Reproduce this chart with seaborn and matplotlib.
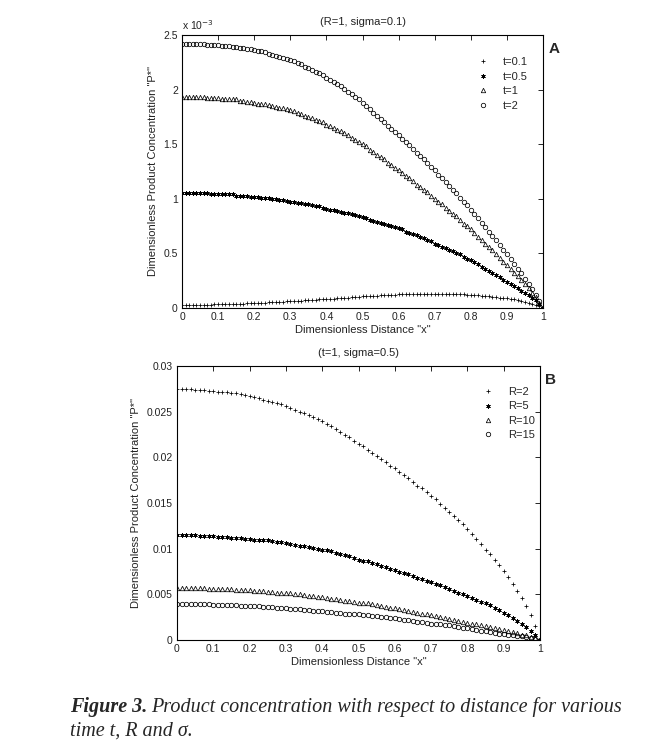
import numpy as np
import matplotlib
matplotlib.use("Agg")
import matplotlib.pyplot as plt
import seaborn as sns

# ---- panel A data (R=1, sigma=0.1), P* in units of 1e-3, x = 0..1 step 0.01
x_a = np.linspace(0, 1, 101)

p_t01 = [.030, .030, .030, .030, .030, .030, .032, .032, .032, .033, .033,
         .035, .035, .036, .036, .036, .038, .040, .042, .044, .045,
         .046, .048, .050, .052, .054, .055, .056, .058, .060, .062,
         .064, .066, .068, .070, .072, .074, .076, .078, .080, .082,
         .084, .086, .088, .090, .093, .096, .098, .100, .103, .106,
         .108, .110, .112, .114, .116, .118, .120, .122, .123, .124,
         .125, .126, .127, .127, .128, .128, .128, .128, .128, .128,
         .128, .128, .128, .127, .127, .126, .125, .124, .122, .120,
         .118, .115, .112, .109, .106, .103, .100, .096, .092, .088,
         .083, .078, .072, .065, .058, .050, .040, .030, .016, .000]

p_t05 = [1.05, 1.05, 1.05, 1.05, 1.05, 1.05, 1.05, 1.05, 1.04, 1.04, 1.04,
         1.04, 1.04, 1.04, 1.04, 1.03, 1.03, 1.03, 1.03, 1.02, 1.02,
         1.02, 1.01, 1.01, 1.01, 1.00, 1.00, 0.99, 0.99, 0.98, 0.97,
         0.97, 0.96, 0.96, 0.95, 0.95, 0.94, 0.93, 0.93, 0.92, 0.91,
         0.90, 0.90, 0.89, 0.88, 0.87, 0.87, 0.86, 0.85, 0.84, 0.83,
         0.82, 0.81, 0.80, 0.79, 0.78, 0.77, 0.76, 0.75, 0.74, 0.73,
         0.72, 0.70, 0.69, 0.68, 0.67, 0.65, 0.64, 0.62, 0.61, 0.59,
         0.58, 0.56, 0.55, 0.53, 0.52, 0.50, 0.49, 0.47, 0.45, 0.44,
         0.42, 0.40, 0.38, 0.36, 0.34, 0.32, 0.30, 0.28, 0.26, 0.24,
         0.22, 0.20, 0.18, 0.16, 0.14, 0.12, 0.09, 0.07, 0.04, 0.00]

p_t1 = [1.93, 1.93, 1.93, 1.93, 1.93, 1.93, 1.93, 1.92, 1.92, 1.92, 1.92,
        1.91, 1.91, 1.91, 1.91, 1.91, 1.90, 1.90, 1.89, 1.89, 1.88,
        1.87, 1.87, 1.87, 1.86, 1.85, 1.84, 1.83, 1.83, 1.82, 1.81,
        1.80, 1.79, 1.78, 1.76, 1.75, 1.74, 1.72, 1.71, 1.70, 1.68,
        1.67, 1.65, 1.63, 1.62, 1.60, 1.58, 1.56, 1.54, 1.52, 1.50,
        1.48, 1.45, 1.43, 1.40, 1.38, 1.36, 1.33, 1.31, 1.28, 1.26,
        1.24, 1.21, 1.19, 1.16, 1.13, 1.11, 1.08, 1.06, 1.03, 1.00,
        0.97, 0.95, 0.92, 0.89, 0.86, 0.84, 0.81, 0.77, 0.75, 0.72,
        0.69, 0.65, 0.62, 0.59, 0.56, 0.53, 0.49, 0.46, 0.42, 0.39,
        0.36, 0.32, 0.29, 0.26, 0.22, 0.18, 0.14, 0.10, 0.05, 0.00]

p_t2 = [2.42, 2.42, 2.42, 2.42, 2.42, 2.42, 2.42, 2.41, 2.41, 2.41, 2.41,
        2.40, 2.40, 2.40, 2.39, 2.39, 2.38, 2.38, 2.37, 2.37, 2.36,
        2.35, 2.35, 2.34, 2.33, 2.32, 2.31, 2.30, 2.29, 2.28, 2.27,
        2.26, 2.24, 2.23, 2.21, 2.20, 2.18, 2.16, 2.15, 2.13, 2.11,
        2.09, 2.07, 2.05, 2.03, 2.01, 1.98, 1.96, 1.93, 1.91, 1.88,
        1.85, 1.82, 1.79, 1.76, 1.73, 1.70, 1.67, 1.64, 1.61, 1.58,
        1.55, 1.52, 1.49, 1.46, 1.42, 1.39, 1.36, 1.33, 1.29, 1.26,
        1.22, 1.19, 1.15, 1.12, 1.08, 1.05, 1.01, 0.97, 0.94, 0.90,
        0.86, 0.82, 0.78, 0.74, 0.70, 0.66, 0.62, 0.58, 0.53, 0.49,
        0.45, 0.40, 0.36, 0.32, 0.27, 0.22, 0.17, 0.12, 0.06, 0.00]

labels_a = ["t=0.1", "t=0.5", "t=1", "t=2"]

# ---- panel B data (t=1, sigma=0.5), P* in units of 1e-3, x = 0..1 step 0.0125
x_b = np.linspace(0, 1, 81)

p_r2 = [27.5, 27.5, 27.5, 27.5, 27.4, 27.4, 27.4, 27.3, 27.3,
        27.2, 27.2, 27.1, 27.0, 27.0, 26.9, 26.8, 26.7,
        26.6, 26.5, 26.3, 26.2, 26.1, 25.9, 25.8, 25.6,
        25.4, 25.2, 25.0, 24.8, 24.6, 24.4, 24.2, 24.0,
        23.7, 23.4, 23.1, 22.8, 22.5, 22.2, 21.8, 21.5,
        21.2, 20.8, 20.5, 20.2, 19.8, 19.5, 19.1, 18.8,
        18.4, 18.1, 17.7, 17.3, 16.9, 16.6, 16.2, 15.8,
        15.4, 14.9, 14.5, 14.0, 13.6, 13.1, 12.7, 12.2,
        11.6, 11.1, 10.5, 9.9, 9.4, 8.8, 8.2, 7.6,
        6.9, 6.1, 5.4, 4.6, 3.7, 2.7, 1.5, 0.0]

p_r5 = [11.5, 11.5, 11.5, 11.5, 11.5, 11.4, 11.4, 11.4, 11.4,
        11.3, 11.3, 11.3, 11.2, 11.2, 11.2, 11.1, 11.1,
        11.0, 11.0, 10.9, 10.9, 10.8, 10.7, 10.7, 10.6,
        10.5, 10.4, 10.3, 10.3, 10.2, 10.1, 10.0, 9.9,
        9.8, 9.7, 9.5, 9.4, 9.3, 9.2, 9.0, 8.8,
        8.7, 8.6, 8.4, 8.3, 8.1, 8.0, 7.8, 7.7,
        7.5, 7.3, 7.2, 7.0, 6.8, 6.7, 6.5, 6.3,
        6.1, 6.0, 5.8, 5.6, 5.4, 5.2, 5.0, 4.8,
        4.6, 4.4, 4.2, 4.0, 3.8, 3.5, 3.3, 3.0,
        2.7, 2.4, 2.1, 1.8, 1.4, 1.0, 0.6, 0.0]

p_r10 = [5.7, 5.7, 5.7, 5.7, 5.7, 5.7, 5.7, 5.6, 5.6,
         5.6, 5.6, 5.6, 5.6, 5.5, 5.5, 5.5, 5.5,
         5.4, 5.4, 5.4, 5.3, 5.3, 5.2, 5.2, 5.1,
         5.1, 5.0, 5.0, 4.9, 4.8, 4.8, 4.7, 4.7,
         4.6, 4.5, 4.5, 4.4, 4.3, 4.3, 4.2, 4.1,
         4.0, 4.0, 3.9, 3.8, 3.7, 3.6, 3.5, 3.5,
         3.4, 3.3, 3.2, 3.1, 3.0, 2.9, 2.8, 2.7,
         2.6, 2.5, 2.4, 2.3, 2.2, 2.1, 2.0, 1.9,
         1.8, 1.7, 1.6, 1.5, 1.4, 1.3, 1.2, 1.1,
         1.0, 0.9, 0.8, 0.6, 0.5, 0.3, 0.2, 0.0]

p_r15 = [3.9, 3.9, 3.9, 3.9, 3.9, 3.9, 3.9, 3.9, 3.8,
         3.8, 3.8, 3.8, 3.8, 3.8, 3.7, 3.7, 3.7,
         3.7, 3.7, 3.6, 3.6, 3.6, 3.5, 3.5, 3.5,
         3.4, 3.4, 3.4, 3.3, 3.3, 3.2, 3.2, 3.2,
         3.1, 3.1, 3.0, 3.0, 2.9, 2.9, 2.8, 2.8,
         2.7, 2.7, 2.6, 2.6, 2.5, 2.5, 2.4, 2.4,
         2.3, 2.2, 2.2, 2.1, 2.0, 2.0, 1.9, 1.8,
         1.8, 1.7, 1.6, 1.6, 1.5, 1.4, 1.3, 1.3,
         1.2, 1.1, 1.0, 1.0, 0.9, 0.8, 0.7, 0.7,
         0.6, 0.5, 0.4, 0.4, 0.3, 0.2, 0.1, 0.0]

labels_b = ["R=2", "R=5", "R=10", "R=15"]

x_ticks = [0, 0.1, 0.2, 0.3, 0.4, 0.5, 0.6, 0.7, 0.8, 0.9, 1]
x_ticklabels = ["0", "0.1", "0.2", "0.3", "0.4", "0.5", "0.6", "0.7", "0.8", "0.9", "1"]
ya_ticks = [0, 0.5, 1, 1.5, 2, 2.5]
ya_ticklabels = ["0", "0.5", "1", "1.5", "2", "2.5"]
yb_ticks = [0, 0.005, 0.01, 0.015, 0.02, 0.025, 0.03]
yb_ticklabels = ["0", "0.005", "0.01", "0.015", "0.02", "0.025", "0.03"]

# plus, asterisk, triangle, circle (matlab style)
markers = ["+", (6, 2, 0), "^", "o"]

sns.set_style("white")
plt.rcParams["font.family"] = ["Liberation Sans", "DejaVu Sans"]
plt.rcParams["xtick.direction"] = "in"
plt.rcParams["ytick.direction"] = "in"

fig = plt.figure(figsize=(6.54, 7.53), dpi=100)
W, H = 654, 753


def box(l, t, r, b):
    return [l / W, 1 - b / H, (r - l) / W, (b - t) / H]


def draw_panel(ax, x, series, labels, ylim, yticks, yticklabels, title, tag, leg_anchor):
    for y, m, lab in zip(series, markers, labels):
        sns.lineplot(x=x, y=y, ax=ax, linestyle="", marker=m, markersize=3.2,
                     markerfacecolor="none", markeredgecolor="black",
                     markeredgewidth=0.55, color="black", label=lab)
    ax.set_xlim(0, 1)
    ax.set_ylim(*ylim)
    ax.set_xticks(x_ticks)
    ax.set_xticklabels(x_ticklabels)
    ax.set_yticks(yticks)
    ax.set_yticklabels(yticklabels)
    ax.tick_params(axis="both", which="both", top=True, right=True, length=3.5,
                   width=0.7, labelsize=7.5, labelcolor="#222222", pad=3)
    for s in ax.spines.values():
        s.set_linewidth(0.8)
        s.set_color("black")
    ax.set_xlabel('Dimensionless Distance "x"', fontsize=8, color="#222222", labelpad=2)
    ax.set_ylabel('Dimensionless Product Concentration "P*"', fontsize=8, color="#222222",
                  labelpad=4)
    ax.set_title(title, fontsize=8, color="#222222", pad=7)
    ax.text(1.015, 0.975, tag, transform=ax.transAxes, fontsize=11, fontweight="bold",
            ha="left", va="top")
    ax.legend(loc="upper right", bbox_to_anchor=leg_anchor, frameon=False, fontsize=8,
              handletextpad=1.2, labelspacing=0.4, markerscale=1.0, handlelength=1.2)


ax_a = fig.add_axes(box(182, 35, 543, 308))
draw_panel(ax_a, x_a, [p_t01, p_t05, p_t1, p_t2], labels_a, (0, 2.5),
           ya_ticks, ya_ticklabels, "(R=1, sigma=0.1)", "A", (0.985, 0.955))
ax_a.text(0.0, 1.01, r"x 10$^{-3}$", transform=ax_a.transAxes, fontsize=7.5,
          color="#222222", ha="left", va="bottom")

ax_b = fig.add_axes(box(177, 366, 540, 640))
yb = [[v / 1000 for v in s] for s in [p_r2, p_r5, p_r10, p_r15]]
draw_panel(ax_b, x_b, yb, labels_b, (0, 0.03),
           yb_ticks, yb_ticklabels, "(t=1, sigma=0.5)", "B", (1.014, 0.96))

# caption: bold "Figure 3." then italic text
fig.canvas.draw()
r = fig.canvas.get_renderer()
cap_font = ["Liberation Serif", "DejaVu Serif"]
t1 = fig.text(70 / W, 1 - 707 / H, "Figure 3.", fontsize=14.5, fontstyle="italic",
              fontweight="bold", family=cap_font, va="center", ha="left")
bb = t1.get_window_extent(renderer=r)
fig.text((bb.x1 + 4) / W, 1 - 707 / H,
         "Product concentration with respect to distance for various",
         fontsize=14.5, fontstyle="italic", family=cap_font, va="center", ha="left")
fig.text(70 / W, 1 - 731 / H, "time t, R and \u03c3.", fontsize=14.5, fontstyle="italic",
         family=cap_font, va="center", ha="left")

fig.savefig("out.png", dpi=100)
